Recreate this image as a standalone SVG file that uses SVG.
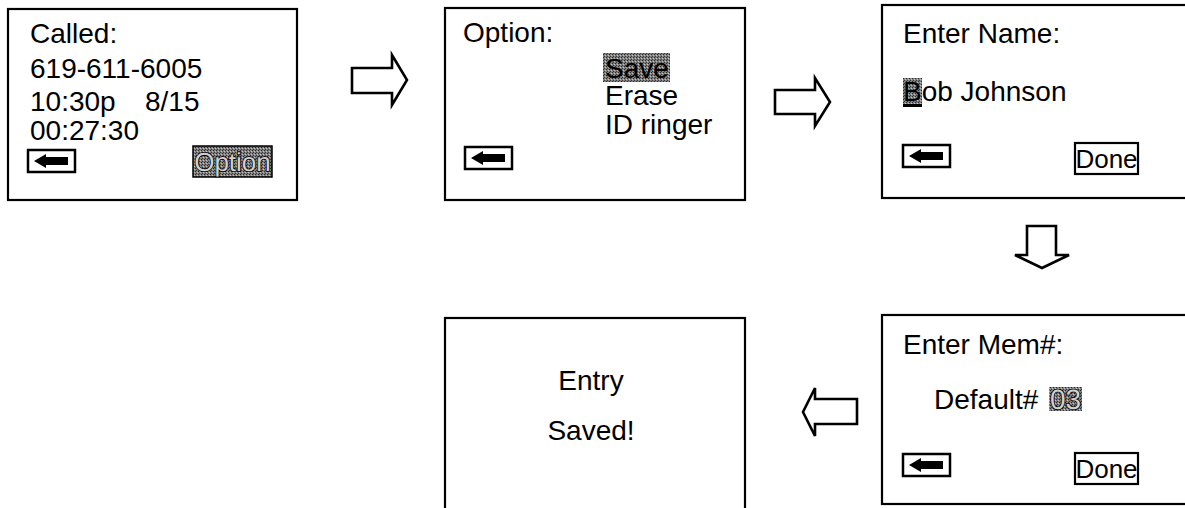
<svg xmlns="http://www.w3.org/2000/svg" width="1185" height="508" viewBox="0 0 1185 508">
  <style>
    .screen { fill: #fff; stroke: #000; stroke-width: 2.2; }
    .txt { font-family: "Liberation Sans", Arial, sans-serif; font-size: 28px; fill: #000; }
    .btn { font-family: "Liberation Sans", Arial, sans-serif; font-size: 26px; }
    .mid { text-anchor: middle; }
    .frame { fill: #fff; stroke: #000; stroke-width: 2.2; }
    .flow { fill: #fff; stroke: #000; stroke-width: 2.6; stroke-linejoin: miter; }
    .hl { fill: url(#stipple); }
    .outlined { fill: #d0d0d0; stroke: #000; stroke-width: 1.6; paint-order: stroke; text-rendering: geometricPrecision; }
  </style>
  <defs>
    <!-- halftone fill used for selected items -->
    <pattern id="stipple" width="3" height="3" patternUnits="userSpaceOnUse">
      <rect width="3" height="3" fill="#808080"/>
      <rect x="0" y="0" width="1" height="1" fill="#2a2a2a"/>
      <rect x="2" y="1" width="1" height="1" fill="#c0c0c0"/>
      <rect x="1" y="2" width="1" height="1" fill="#3a3a3a"/>
    </pattern>
    <!-- soft key: back arrow -->
    <g id="back">
      <rect x="0" y="0" width="47" height="22" fill="#fff" stroke="#000" stroke-width="2.5"/>
      <path d="M6 11 L18 4 L18 7 L40 7 L40 15 L18 15 L18 18 Z" fill="#000"/>
    </g>
  </defs>

  <!-- screen 1: call record -->
  <g id="screen-called">
    <rect class="screen" x="8" y="9" width="289" height="191"/>
    <text class="txt" x="30" y="43">Called:</text>
    <text class="txt" x="30" y="78">619-611-6005</text>
    <text class="txt" x="30" y="111">10:30p</text>
    <text class="txt" x="145" y="111">8/15</text>
    <text class="txt" x="30" y="140">00:27:30</text>
    <use href="#back" x="28" y="150"/>
    <rect class="hl" x="193" y="146" width="79" height="31" stroke="#000" stroke-width="1.5"/>
    <text class="btn mid outlined" x="232.5" y="171">Option</text>
  </g>

  <!-- screen 2: option menu -->
  <g id="screen-option">
    <rect class="screen" x="445" y="8" width="300" height="192"/>
    <text class="txt" x="463" y="42">Option:</text>
    <rect class="hl" x="603" y="53" width="67" height="29"/>
    <text class="txt" x="605" y="78">Save</text>
    <text class="txt" x="605" y="105">Erase</text>
    <text class="txt" x="605" y="134">ID ringer</text>
    <use href="#back" x="465" y="147"/>
  </g>

  <!-- screen 3: name entry -->
  <g id="screen-name">
    <rect class="screen" x="882" y="5" width="310" height="193"/>
    <text class="txt" x="903" y="43">Enter Name:</text>
    <rect class="hl" x="903" y="78" width="19" height="26"/>
    <rect x="903" y="104" width="19" height="3" fill="#000"/>
    <text class="txt" x="903" y="101">Bob Johnson</text>
    <use href="#back" x="903" y="145"/>
    <rect class="frame" x="1075" y="143" width="63" height="31"/>
    <text class="btn mid" x="1106.5" y="168">Done</text>
  </g>

  <!-- screen 4: memory slot -->
  <g id="screen-mem">
    <rect class="screen" x="882" y="315" width="310" height="189"/>
    <text class="txt" x="903" y="354">Enter Mem#:</text>
    <text class="txt" x="934" y="409">Default#</text>
    <rect class="hl" x="1049" y="387" width="33" height="24"/>
    <text class="txt outlined" x="1050" y="409">03</text>
    <use href="#back" x="903" y="454"/>
    <rect class="frame" x="1075" y="453" width="63" height="31"/>
    <text class="btn mid" x="1106.5" y="478">Done</text>
  </g>

  <!-- screen 5: confirmation -->
  <g id="screen-saved">
    <rect class="screen" x="445" y="318" width="300" height="200"/>
    <text class="txt mid" x="591" y="390">Entry</text>
    <text class="txt mid" x="591" y="440">Saved!</text>
  </g>

  <!-- flow arrows -->
  <g id="connectors">
    <path class="flow" d="M352 68 L392 68 L392 55 L407 80 L392 105 L392 93 L352 93 Z"/>
    <path class="flow" d="M775 90 L815 90 L815 78 L830 102 L815 126 L815 114 L775 114 Z"/>
    <path class="flow" d="M1027 226 L1056 226 L1056 255 L1069 255 L1042 268 L1015 255 L1027 255 Z"/>
    <path class="flow" d="M857 399 L815 399 L815 388 L803 412 L815 436 L815 424 L857 424 Z"/>
  </g>
</svg>
